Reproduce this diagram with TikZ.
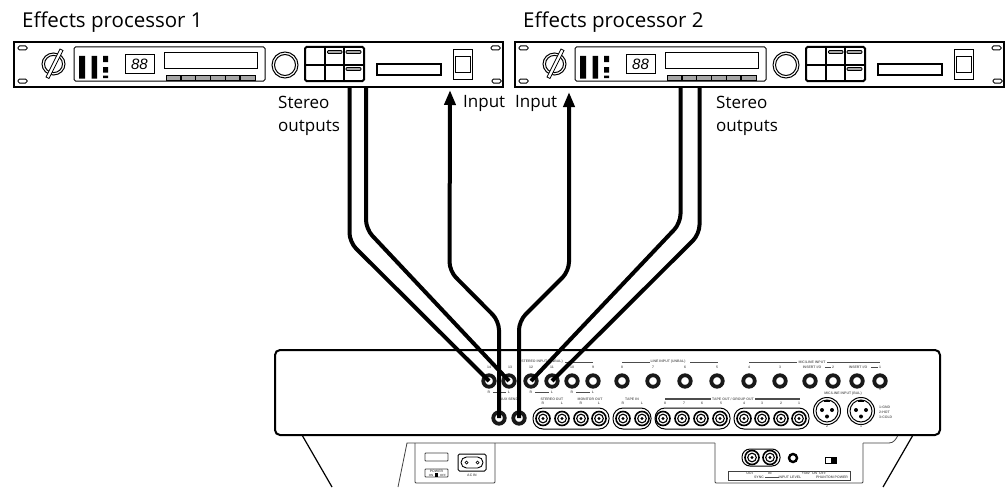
\documentclass[tikz,border=0pt]{standalone}
\usepackage{fontspec}
\setmainfont{Open Sans}
\newfontfamily\tinyfont{Liberation Sans}
\usetikzlibrary{arrows.meta}
\tikzset{
 x=1pt,y=-1pt,
 cable/.style={line width=4pt,draw=black,line join=round,rounded corners=9pt},
 arrowcable/.style={cable,-{Triangle[length=15pt,width=11pt]}},
 lbl/.style={font=\fontsize{17}{23}\selectfont,inner sep=0pt,anchor=base west,align=left},
 ttl/.style={lbl,font=\fontsize{20.5}{24}\selectfont},
 tiny/.style={font=\tinyfont\bfseries\fontsize{3.5}{4.2}\selectfont,text=black!60,inner sep=0pt},
 rule/.style={draw=black!70,line width=.9pt},
 ear/.style={draw=black,line width=1pt,rounded corners=1.5pt},
 pill/.style={draw=black,line width=1pt,rounded corners=10pt,fill=white},
 panel/.style={draw=black,line width=2pt,rounded corners=5pt},
 thin/.style={draw=black!75,line width=.8pt},
}
\newcommand{\jackA}[3]{\node[circle,draw=black!90,line width=3.8pt,minimum size=11.5pt,inner sep=0pt,fill=white] (#1) at (#2,#3) {};}
\newcommand{\rca}[3]{\node[circle,draw=black,line width=1.6pt,minimum size=14pt,inner sep=0pt,fill=white] (#1) at (#2,#3) {};
 \draw[black,line width=1.1pt] (#2,#3) circle (4.3pt);\fill[black] (#2,#3) circle (1.6pt);}
\newcommand{\xlr}[3]{\node[circle,draw=black,line width=1pt,minimum size=27pt,inner sep=0pt] (#1) at (#2,#3) {};
 \draw[line width=1pt] (#2,#3) circle (11pt);
 \fill (#2-5,#3-1) circle (2pt) (#2+5,#3-1) circle (2pt) (#2,#3+5.5) circle (2pt);
 \fill (#2-3,#3-11.5) rectangle (#2+3,#3-9);}
\tikzset{
 processor/.pic={
  \draw[line width=1.3pt] (0,0) rectangle (489,45);
  \draw[ear] (4,4) rectangle (13,8); \draw[ear] (4,37) rectangle (13,41);
  \draw[ear] (477,4) rectangle (486,8); \draw[ear] (478,37) rectangle (487,41);
  % logo
  \draw[line width=1pt] (39.5,22) ellipse (11.5pt and 11pt);
  \draw[line width=1pt] (39.5,22) ellipse (9pt and 8.6pt);
  \draw[line width=.8pt,fill=white] (32,35) -- (35,36.5) -- (49,8.5) -- (46,7) -- cycle;
  % display
  \draw[line width=1pt,rounded corners=1.5pt] (60,5) rectangle (251,39);
  \fill (65,14) rectangle (71,36.5) (77.5,14) rectangle (83,36.5);
  \fill (89,14) rectangle (94,20) (89,25) rectangle (94,30.5) (89,33.5) rectangle (94,36);
  \draw[line width=1pt] (111,13) rectangle (140,31);
  \node[font=\tinyfont\itshape\fontsize{15}{15}\selectfont,inner sep=0pt] at (125.5,22) {88};
  \draw[line width=1pt] (150,11) rectangle (243,26);
  \draw[line width=.8pt,fill=black!35] (152,33) rectangle (241,38.5);
  \foreach \k in {1,...,5} \draw[line width=1.6pt] (152+\k*14.83,33) -- ++(0,5.5);
  % knob
  \draw[line width=1pt] (271,23) circle (13pt) circle (10.5pt);
  % grid
  \draw[line width=2pt,rounded corners=1.5pt] (291,5) rectangle (350,39);
  \draw[line width=1.5pt] (291,23) -- (350,23) (311,5) -- (311,39) (330,5) -- (330,39);
  \draw[line width=.8pt,fill=black!35,rounded corners=1pt] (313.5,8.5) rectangle (328,11.5);
  \draw[line width=.8pt,fill=black!35,rounded corners=1pt] (332,8.5) rectangle (347,11.5);
  \draw[line width=.8pt,fill=black!35,rounded corners=1pt] (332,25.5) rectangle (347,28.5);
  % slot
  \draw[line width=2pt] (362.5,21.5) rectangle (427,33);
  % input box
  \draw[line width=1pt] (439,8) rectangle (458,37);
  \draw[line width=1pt] (441,15) rectangle (456,30);
 }
}
\begin{document}
\begin{tikzpicture}
\useasboundingbox (0,0) rectangle (1008,487);
% labels
\node[ttl] (t1) at (22,28) {Effects processor 1};
\node[ttl] (t2) at (523,28) {Effects processor 2};
\node[lbl] (s1) at (278,131) {Stereo\\outputs};
\node[lbl] (s2) at (716,131) {Stereo\\outputs};
\node[lbl] (i1) at (463,107) {Input};
\node[lbl] (i2) at (515,107) {Input};
% processors
\pic at (14,42) {processor};
\pic at (515,42) {processor};
\coordinate (p1a) at (349.5,87); \coordinate (p1b) at (366,87); \coordinate (p1in) at (450,90);
\coordinate (p2a) at (680.5,87); \coordinate (p2b) at (699.5,87); \coordinate (p2in) at (569,92);
% mixer body
\draw[thin] (398,487) -- (407,443) -- (715,443) (863,443) -- (889,443) to[out=0,in=-115] (898,435);
\draw[line width=1.2pt] (302,435) -- (332,487) (913,435) -- (883,487);
\draw[thin,rounded corners=1pt] (415,443) -- (415,483) -- (495,483) -- (495,443);
\draw[thin,rounded corners=1pt] (715,443) -- (715,483) -- (863,483) -- (863,443);
\draw[panel] (275,350) rectangle (940,435);
% top jacks
\foreach \n/\x in {j14/489,j13/509,j12/531,j11/552,j10/572,j9/593,j8/622,j7/653,j6/685,j5/717,j4/749,j3/780,j2i/810,j2/833,j1i/857,j1/880}{\jackA{\n}{\x}{381}}
\jackA{a1}{499}{418}\jackA{a2}{519}{418}
% pills
\draw[pill] (533,408) rectangle (609,429);
\draw[pill] (613,408) rectangle (651,429);
\draw[pill] (655,408) rectangle (730,429);
\draw[pill] (734,408) rectangle (809,429);
\foreach \n/\x in {ra/543,rb/562,rc/581,rd/599,re/623,rf/642,rg/663,rh/682,ri/701,rj/720,rk/744,rl/762,rm/781,rn/799}{\rca{\n}{\x}{418.5}}
\xlr{x2}{827}{411}\xlr{x1}{861}{411}
% small text
\node[tiny] (u1) at (489,367) {14}; \node[tiny] (u2) at (510,367) {13}; \node[tiny] (u3) at (531,367) {12}; \node[tiny] (u4) at (552,367) {11}; \node[tiny] (u5) at (572,367) {10}; \node[tiny] (u6) at (593,367) {9};
\foreach \n/\x/\t in {u7/622/8,u8/653/7,u9/685/6,u10/717/5,u11/749/4,u12/780/3}{\node[tiny] (\n) at (\x,367) {\t};}
\node[tiny] (h1) at (542,362) {STEREO INPUT (UNBAL)};
\node[tiny] (h2) at (668,362) {LINE INPUT (UNBAL)};
\node[tiny] (h3) at (812,362) {MIC/LINE INPUT};
\node[tiny] (h4) at (812,367) {INSERT I/O};
\node[tiny] (h5) at (858,367) {INSERT I/O};
\node[tiny] (h6) at (833,367) {2};\node[tiny] (h7) at (880,367) {1};
\draw[rule] (565,362) -- (593,362) (622,362) -- (650,362) (690,362) -- (718,362) (749,362) -- (797,362) (827,362) -- (880,362);
\draw[rule] (825,367) -- (831,367) (871,367) -- (878,367);
\node[tiny] (lr1) at (489,392) {R}; \node[tiny] (lr2) at (509,392) {L};
\node[tiny] (lr3) at (531,392) {R}; \node[tiny] (lr4) at (552,392) {L};
\node[tiny] (lr5) at (572,392) {R}; \node[tiny] (lr6) at (593,392) {L};
\draw[rule] (493,392.5) -- (506,392.5) (535,392.5) -- (549,392.5) (576,392.5) -- (590,392.5);
\node[tiny] (n1) at (880,389) {9};
\node[tiny] (aux) at (509,399) {AUX SEND};
\node[tiny] (so) at (552,399) {STEREO OUT};
\node[tiny] (mo) at (590,399) {MONITOR OUT};
\node[tiny] (ti) at (632,399) {TAPE IN};
\node[tiny] (to) at (733,399) {TAPE OUT / GROUP OUT};
\node[tiny] (xi) at (843,394) {MIC/LINE INPUT (BAL)};
\foreach \n/\x/\t in {q1/543/R,q2/562/L,q3/581/R,q4/599/L,q5/623/R,q6/642/L,q7/665/8,q8/684/7,q9/702/6,q10/721/5,q11/744/4,q12/762/3,q13/781/2,q14/799/1}{\node[tiny] (\n) at (\x,403.5) {\t};}
\draw[line width=1.3pt,black!70] (665,399) -- (711,399) (755,399) -- (800,399);
\node[tiny] (x2l) at (827,426) {2}; \node[tiny] (x1l) at (861,426) {1};
\node[tiny,anchor=west] (g1) at (879,407) {1:GND};
\node[tiny,anchor=west] (g2) at (879,412) {2:HOT};
\node[tiny,anchor=west] (g3) at (879,417) {3:COLD};
% lower left
\draw[thin,rounded corners=.8pt] (425,453) rectangle (448,461);
\draw[thin,rounded corners=.8pt] (425,469) rectangle (448,477);
\node[tiny,font=\tinyfont\bfseries\fontsize{3.5}{4}\selectfont] (pw) at (436.5,471) {POWER};
\node[tiny,font=\tinyfont\bfseries\fontsize{3}{4}\selectfont] (on) at (431,475) {ON};
\node[tiny,font=\tinyfont\bfseries\fontsize{3}{4}\selectfont] (of) at (443,475) {OFF};
\fill (435,473) rectangle (438,477);
\draw[line width=1pt,rounded corners=1.5pt] (458,454) rectangle (486,471);
\draw[line width=.9pt] (466.5,457) -- (477.5,457) arc (90:-90:5.5pt) -- (466.5,468) arc (270:90:5.5pt) -- cycle;
\draw[line width=.7pt] (466.5,462.5) circle (1.5pt) (477.5,462.5) circle (1.5pt);
\node[tiny] (ac) at (472,475) {AC IN};
% lower right
\draw[pill,rounded corners=8pt] (742,449) rectangle (780,466);
\rca{sa}{752}{457.5}\rca{sb}{770}{457.5}
\node[circle,draw=black,line width=2.4pt,minimum size=8pt,inner sep=0pt] (sj) at (793,458) {};
\draw[line width=.8pt] (825,457) rectangle (836,463); \fill (830.5,457) rectangle (836,463);
\draw[thin] (728,471) rectangle (850,480);
\node[tiny] (o1) at (750,473.5) {OUT}; \node[tiny] (o2) at (770,473.5) {IN};
\node[tiny] (o3) at (814,473.5) {+48V\ \ ON\ \ OFF};
\node[tiny] (o4) at (759,477.5) {SYNC}; \node[tiny] (o5) at (790,477.5) {INPUT LEVEL}; \node[tiny] (o6) at (832,477.5) {PHANTOM POWER};
\draw[rule] (765,477.5) -- (779,477.5);
% cables
\draw[cable] (p1a) -- (349.5,242) -- (j14.center);
\draw[cable] (p1b) -- (366,229) -- (j13.center);
\draw[cable] (p2a) -- (680.5,223) -- (j12.center);
\draw[cable] (p2b) -- (699.5,234) -- (j11.center);
\draw[arrowcable] (a1.center) -- (499,321) -- (449.5,271) -- (p1in);
\draw[arrowcable] (a2.center) -- (519,321) -- (569,271) -- (p2in);
\end{tikzpicture}
\end{document}
